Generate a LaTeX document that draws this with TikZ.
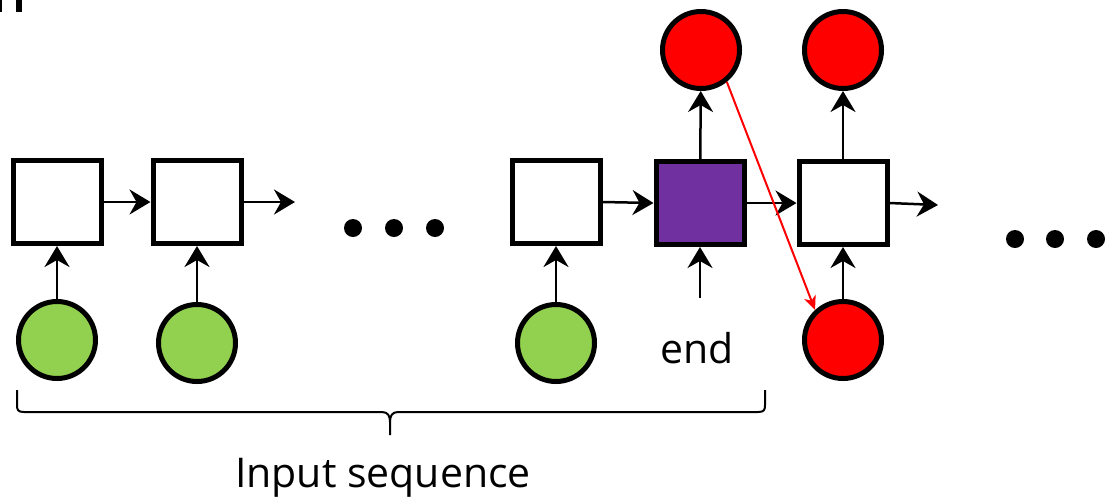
\documentclass[tikz,border=0pt]{standalone}
\usepackage{fontspec}
\setmainfont{Open Sans}
\usetikzlibrary{arrows.meta}
\definecolor{cgreen}{HTML}{92D050}
\definecolor{cpurple}{HTML}{7030A0}
\definecolor{cred}{HTML}{FF0000}
\begin{document}
\begin{tikzpicture}[x=1pt,y=-1pt,
  cell/.style={draw=black,line width=5pt,fill=white,minimum width=88pt,minimum height=83pt,inner sep=0pt},
  ball/.style={draw=black,line width=5pt,circle,minimum size=77pt,inner sep=0pt},
  conn/.style={line width=2.5pt,-{Stealth[length=21pt,width=25pt,inset=7pt]}},
  redconn/.style={draw=cred,line width=2pt,-{Stealth[length=14pt,width=12pt,inset=4pt]}},
  lbl/.style={font=\fontsize{41pt}{47pt}\selectfont,anchor=base,inner sep=0pt},
  dot/.style={circle,fill=black,minimum size=18pt,inner sep=0pt}]
\useasboundingbox (0,0) rectangle (1115,499);
% partial glyph at top-left
\fill (0,0) rectangle (2,12);
\fill (16,0) rectangle (22,12);
% boxes
\node[cell] (b1) at (57,202) {};
\node[cell] (b2) at (197,202) {};
\node[cell] (b3) at (556,202) {};
\node[cell,fill=cpurple] (b4) at (700,203) {};
\node[cell] (b5) at (843,203) {};
% circles
\node[ball,fill=cgreen] (g1) at (57,340) {};
\node[ball,fill=cgreen] (g2) at (197,343) {};
\node[ball,fill=cgreen] (g3) at (556,343) {};
\node[ball,fill=cred] (r1) at (701,50) {};
\node[ball,fill=cred] (r2) at (843,50) {};
\node[ball,fill=cred] (r3) at (843,340) {};
% free ends
\coordinate (o2) at (295,202);
\coordinate (o5) at (938,205);
\coordinate (in4) at (700,298);
% connectors
\draw[conn] (g1) -- (b1);
\draw[conn] (g2) -- (b2);
\draw[conn] (g3) -- (b3);
\draw[conn] (b1) -- (b2);
\draw[conn] (b2.east) -- (o2);
\draw[conn] (b3.east) -- (b4.west);
\draw[conn] (b4) -- (b5);
\draw[conn] (b5.east) -- (o5);
\draw[conn] (in4) -- (b4.south);
\draw[conn] (b4) -- (r1);
\draw[conn] (b5) -- (r2);
\draw[conn] (r3) -- (b5);
\draw[redconn] (r1.-51) -- (r3.133);
% dots
\node[dot] (d1) at (353,228) {};
\node[dot] (d2) at (394,228) {};
\node[dot] (d3) at (435,228) {};
\node[dot] (d4) at (1015,239) {};
\node[dot] (d5) at (1055,239) {};
\node[dot] (d6) at (1096,239) {};
% brace
\draw[line width=2pt,line join=round] (17,390) -- (17,405) .. controls (17,410) and (18,412) .. (24,412)
  -- (382,412) .. controls (388,412) and (390,416) .. (390,422) -- (390,435);
\draw[line width=2pt,line join=round] (765,390) -- (765,405) .. controls (765,410) and (764,412) .. (758,412)
  -- (398,412) .. controls (392,412) and (390,416) .. (390,422);
% labels
\node[lbl] (tend) at (697,363) {end};
\node[lbl] (tin) at (383,487) {Input sequence};
\end{tikzpicture}
\end{document}
